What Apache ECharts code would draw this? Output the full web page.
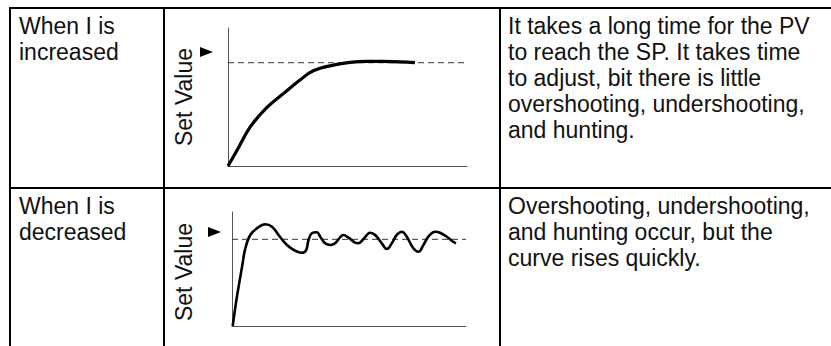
<!DOCTYPE html>
<html>
<head>
<meta charset="utf-8">
<script src="https://cdn.jsdelivr.net/npm/echarts@6/dist/echarts.min.js"></script>
<style>
  html, body { margin: 0; padding: 0; background: #fff; }
  #main { width: 831px; height: 346px; }
</style>
</head>
<body>
<div id="main"></div>
<script>
// row labels and descriptions
var rowLabels = ["When I is\nincreased", "When I is\ndecreased"];
var rowNotes = [
  "It takes a long time for the PV\nto reach the SP. It takes time\nto adjust, bit there is little\novershooting, undershooting,\nand hunting.",
  "Overshooting, undershooting,\nand hunting occur, but the\ncurve rises quickly."
];
var axisName = "Set Value";

// set point (normalized to 1)
var spX = [0, 100];
var spY = [1, 1];

// PV response when I is increased (time %, value / SP)
var incX = [0, 3.8, 9.3, 16.2, 23.2, 30.1, 35.7, 44.1, 51.0, 58.0, 65.0, 72.0, 78.2];
var incY = [0, 0.152, 0.378, 0.566, 0.701, 0.832, 0.922, 0.977, 1.003, 1.013, 1.013, 1.009, 1.0];

// PV response when I is decreased
var decX = [0.3, 2.1, 4.3, 5.7, 7.8, 10.7, 14.2, 17.1, 19.9, 23.5, 27.0, 29.9, 31.7, 32.7, 34.1, 36.3,
  37.7, 39.8, 42.0, 44.1, 46.2, 47.6, 49.8, 52.6, 54.0, 56.2, 59.0, 61.2, 64.0, 66.2, 68.3, 70.4,
  72.6, 74.7, 77.5, 79.7, 81.8, 83.9, 86.8, 88.9, 91.8, 93.9, 95.7];
var decY = [0, 0.336, 0.683, 0.896, 1.050, 1.127, 1.173, 1.146, 1.050, 0.934, 0.868, 0.845, 0.876, 0.992, 1.069, 1.081,
  1.030, 0.954, 0.934, 0.954, 1.023, 1.050, 1.019, 0.961, 0.954, 1.003, 1.076, 1.050, 0.954, 0.888, 0.954, 1.050,
  1.088, 1.030, 0.896, 0.857, 0.934, 1.030, 1.088, 1.076, 1.030, 0.984, 0.954];

function pairs(xs, ys) {
  return xs.map(function (x, i) { return [x, ys[i]]; });
}

var chart = echarts.init(document.getElementById("main"), null, { renderer: "svg" });

var font = '23px "Liberation Sans", Arial, Helvetica, sans-serif';

function xAxis(idx) {
  return {
    type: "value", gridIndex: idx, min: 0, max: 100,
    axisLine: { show: true, lineStyle: { color: "#555", width: 1 } },
    axisTick: { show: false }, axisLabel: { show: false }, splitLine: { show: false }
  };
}
function yAxis(idx, max) {
  return {
    type: "value", gridIndex: idx, min: 0, max: max,
    axisLine: { show: true, lineStyle: { color: "#555", width: 1 } },
    axisTick: { show: false }, axisLabel: { show: false }, splitLine: { show: false }
  };
}

var lineCol = "#000";
var textCol = "#111";

var option = {
  animation: false,
  grid: [
    { left: 228, top: 28, width: 239, height: 138 },
    { left: 232, top: 212, width: 234, height: 114 }
  ],
  xAxis: [xAxis(0), xAxis(1)],
  yAxis: [yAxis(0, 1.336), yAxis(1, 1.315)],
  series: [
    {
      type: "line", xAxisIndex: 0, yAxisIndex: 0, data: pairs(spX, spY),
      showSymbol: false, lineStyle: { color: "#333", width: 1, type: [6, 4] }
    },
    {
      type: "line", xAxisIndex: 0, yAxisIndex: 0, data: pairs(incX, incY),
      smooth: 0.4, showSymbol: false, lineStyle: { color: lineCol, width: 3.2 }
    },
    {
      type: "line", xAxisIndex: 1, yAxisIndex: 1, data: pairs(spX, spY),
      showSymbol: false, lineStyle: { color: "#333", width: 1, type: [6, 4] }
    },
    {
      type: "line", xAxisIndex: 1, yAxisIndex: 1, data: pairs(decX, decY),
      smooth: 0.4, showSymbol: false, lineStyle: { color: lineCol, width: 2.6 }
    }
  ],
  graphic: [
    // table rules
    { type: "line", shape: { x1: 10, y1: 8, x2: 831, y2: 8 }, style: { stroke: "#000", lineWidth: 2 } },
    { type: "line", shape: { x1: 10, y1: 188, x2: 831, y2: 188 }, style: { stroke: "#000", lineWidth: 2 } },
    { type: "line", shape: { x1: 10, y1: 7, x2: 10, y2: 346 }, style: { stroke: "#000", lineWidth: 2 } },
    { type: "line", shape: { x1: 164, y1: 7, x2: 164, y2: 346 }, style: { stroke: "#000", lineWidth: 2 } },
    { type: "line", shape: { x1: 500, y1: 7, x2: 500, y2: 346 }, style: { stroke: "#000", lineWidth: 2 } },
    // row 1 texts
    { type: "text", x: 19, y: 13, style: { text: rowLabels[0], font: font, lineHeight: 26, fill: textCol, verticalAlign: "top" } },
    { type: "text", x: 508, y: 13, style: { text: rowNotes[0], font: font, lineHeight: 26, fill: textCol, verticalAlign: "top" } },
    { type: "text", x: 184, y: 97, rotation: Math.PI / 2, style: { text: axisName, font: font, fill: textCol, align: "center", verticalAlign: "middle" } },
    { type: "polygon", shape: { points: [[200, 47], [213, 52], [200, 57]] }, style: { fill: "#000" } },
    // row 2 texts
    { type: "text", x: 19, y: 193, style: { text: rowLabels[1], font: font, lineHeight: 26, fill: textCol, verticalAlign: "top" } },
    { type: "text", x: 508, y: 193, style: { text: rowNotes[1], font: font, lineHeight: 26, fill: textCol, verticalAlign: "top" } },
    { type: "text", x: 184, y: 272, rotation: Math.PI / 2, style: { text: axisName, font: font, fill: textCol, align: "center", verticalAlign: "middle" } },
    { type: "polygon", shape: { points: [[208, 227], [221, 232], [208, 237]] }, style: { fill: "#000" } }
  ]
};

chart.setOption(option);
</script>
</body>
</html>
